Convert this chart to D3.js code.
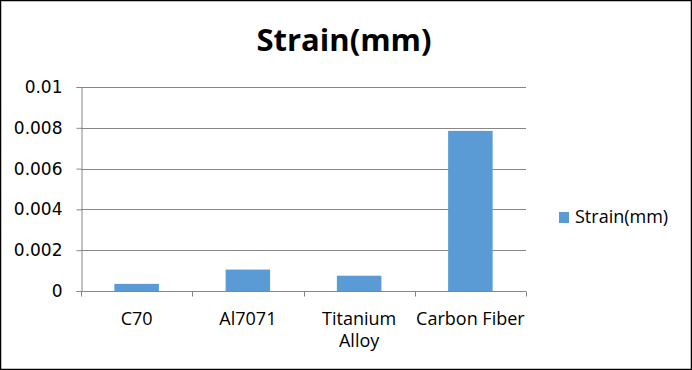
<!DOCTYPE html>
<html lang="en">
<head>
    <meta charset="UTF-8">
    <title>Strain(mm)</title>
    <script src="https://d3js.org/d3.v7.min.js"></script>
    <style>
        body { margin: 0; background: #fff; }
        svg { display: block; font-family: "Open Sans", "Noto Sans", sans-serif; }
    </style>
</head>
<body>
    <svg id="chart" width="692" height="370"></svg>

    <script>
        // Chart data
        const categories = ["C70", "Al7071", "Titanium Alloy", "Carbon Fiber"];
        const strainValues = [0.00035, 0.00105, 0.00075, 0.00785];
        const tickLabels = [["C70"], ["Al7071"], ["Titanium", "Alloy"], ["Carbon Fiber"]];
        const yTicks = [0, 0.002, 0.004, 0.006, 0.008, 0.01];
        const seriesName = "Strain(mm)";

        const width = 692, height = 370;
        const margin = { top: 87, right: 166, bottom: 79, left: 81 };

        const svg = d3.select("#chart");

        // outer border
        svg.append("rect")
            .attr("x", 0.5).attr("y", 0.5)
            .attr("width", width - 1).attr("height", height - 1)
            .attr("fill", "#fff")
            .attr("stroke", "#000")
            .attr("stroke-width", 1.5);

        // title
        svg.append("text")
            .attr("x", 344)
            .attr("y", 51)
            .attr("text-anchor", "middle")
            .attr("font-size", 31)
            .attr("font-weight", "bold")
            .attr("fill", "#000")
            .text(seriesName);

        const x = d3.scaleBand()
            .domain(categories)
            .range([margin.left, width - margin.right])
            .paddingInner(0.6)
            .paddingOuter(0.3);

        const y = d3.scaleLinear()
            .domain([0, 0.01])
            .range([height - margin.bottom, margin.top]);

        // gridlines
        svg.append("g")
            .selectAll("line")
            .data(yTicks.filter(d => d > 0))
            .join("line")
            .attr("x1", margin.left)
            .attr("x2", width - margin.right)
            .attr("y1", d => Math.round(y(d)) + 0.5)
            .attr("y2", d => Math.round(y(d)) + 0.5)
            .attr("stroke", "#868686");

        // y axis
        const yAxis = svg.append("g")
            .attr("transform", `translate(${margin.left + 0.5},0)`)
            .call(d3.axisLeft(y).tickValues(yTicks).tickFormat(d => String(+d.toFixed(3))).tickSize(5).tickPadding(14));
        yAxis.select(".domain").attr("stroke", "#868686");
        yAxis.selectAll(".tick line").attr("stroke", "#868686");
        yAxis.selectAll(".tick text")
            .attr("font-size", 17)
            .attr("fill", "#000")
            .attr("font-family", "DejaVu Sans, sans-serif");

        // bars
        svg.append("g")
            .selectAll("rect")
            .data(categories)
            .join("rect")
            .attr("x", d => x(d))
            .attr("width", x.bandwidth())
            .attr("y", (d, i) => y(strainValues[i]))
            .attr("height", (d, i) => y(0) - y(strainValues[i]))
            .attr("fill", "#5b9bd5");

        // x axis
        const x0 = Math.round(y(0)) + 0.5;
        const step = x.step();
        const bandStarts = categories.map(c => x(c) - x.paddingInner() * step / 2);
        const xAxis = svg.append("g");
        xAxis.append("line")
            .attr("x1", margin.left).attr("x2", width - margin.right)
            .attr("y1", x0).attr("y2", x0)
            .attr("stroke", "#868686");
        xAxis.selectAll("line.tick")
            .data(bandStarts.concat([width - margin.right]))
            .join("line")
            .attr("class", "tick")
            .attr("x1", d => Math.round(d) + 0.5).attr("x2", d => Math.round(d) + 0.5)
            .attr("y1", x0).attr("y2", x0 + 5)
            .attr("stroke", "#868686");

        xAxis.selectAll("text.label")
            .data(categories)
            .join("text")
            .attr("class", "label")
            .attr("text-anchor", "middle")
            .attr("font-size", 18)
            .attr("fill", "#000")
            .each(function (d, i) {
                const t = d3.select(this);
                tickLabels[i].forEach((line, j) => {
                    t.append("tspan")
                        .attr("x", x(d) + x.bandwidth() / 2)
                        .attr("y", 325 + j * 22)
                        .text(line);
                });
            });

        // legend
        const legend = svg.append("g").attr("transform", "translate(559,212)");
        legend.append("rect")
            .attr("width", 10).attr("height", 11)
            .attr("fill", "#5b9bd5");
        legend.append("text")
            .attr("x", 16).attr("y", 11)
            .attr("font-size", 18)
            .attr("fill", "#000")
            .text(seriesName);
    </script>
</body>
</html>
